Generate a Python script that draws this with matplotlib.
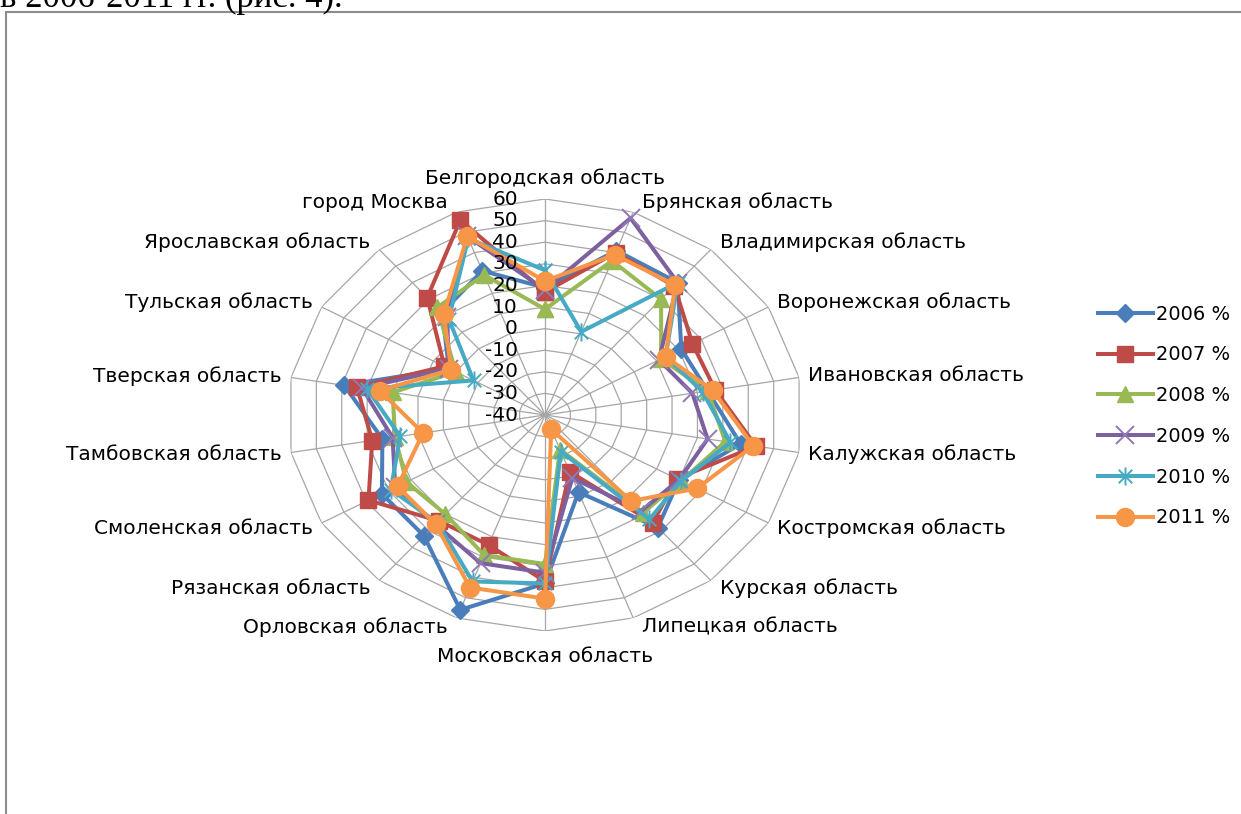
import numpy as np
import matplotlib
matplotlib.use('Agg')
import matplotlib.pyplot as plt
from matplotlib.path import Path
from matplotlib.transforms import offset_copy
from matplotlib.patches import Rectangle

categories = ['Белгородская область', 'Брянская область', 'Владимирская область',
              'Воронежская область', 'Ивановская область', 'Калужская область',
              'Костромская область', 'Курская область', 'Липецкая область',
              'Московская область', 'Орловская область', 'Рязанская область',
              'Смоленская область', 'Тамбовская область', 'Тверская область',
              'Тульская область', 'Ярославская область', 'город Москва']
series_labels = ['2006 %', '2007 %', '2008 %', '2009 %', '2010 %', '2011 %']
v2006 = [19, 41, 40, 21, 24, 37, 20, 28, -2, 38, 56, 33, 33, 24, 39, 3, 22, 31]
v2007 = [17, 40, 38, 26, 27, 43, 19, 25, -12, 37, 24, 24, 39, 28, 34, 5, 31, 56]
v2008 = [9, 36, 30, 12, 24, 31, 21, 19, -23, 29, 29, 20, 22, 19, 20, 0, 25, 29]
v2009 = [18, 57, 40, 11, 18, 24, 20, 18, -9, 33, 33, 26, 27, 20, 32, 3, 19, 48]
v2010 = [27, 1, 40, 14, 22, 33, 21, 23, -22, 38, 42, 25, 29, 17, 30, -8, 18, 47]
v2011 = [22, 39, 38.5, 14, 26, 42, 28, 12, -33, 45, 45, 26, 26, 8, 25, 2, 21, 48]
r_ticks = [-40, -30, -20, -10, 0, 10, 20, 30, 40, 50, 60]
caption = 'в 2006-2011 гг. (рис. 4).'

FONT = 'DejaVu Sans'
FS = 14.5
W, H = 1241, 814
fig = plt.figure(figsize=(W / 100, H / 100), dpi=100)
fig.patch.set_facecolor('white')

# document frame and cut-off caption line above the chart
fig.add_artist(Rectangle((6 / W, -0.1), 1.2, (H - 12) / H + 0.1, transform=fig.transFigure,
                         fill=False, edgecolor='#8c8c8c', lw=1.5))
fig.text(0.0, 1 - 7 / H, caption, family='Liberation Serif', fontsize=25,
         va='baseline', ha='left')

cx, cy, rx, ry = 545, 415, 258, 216
ax = fig.add_axes([(cx - rx) / W, (H - cy - ry) / H, 2 * rx / W, 2 * ry / H],
                  projection='polar')
ax.set_aspect('auto')
ax.set_theta_zero_location('N')
ax.set_theta_direction(-1)
ax.set_ylim(r_ticks[0], r_ticks[-1])
ax.grid(False)
ax.set_xticks([])
ax.set_yticks([])
ax.spines['polar'].set_visible(False)
ax.patch.set_visible(False)

n = len(categories)
theta = np.arange(n) * 2 * np.pi / n
theta_c = np.append(theta, theta[0])
grid_col = '#a6a6a6'
for lev in r_ticks[1:]:
    ax.plot(theta_c, [lev] * (n + 1), color=grid_col, lw=0.9, zorder=0)
for t in theta:
    ax.plot([t, t], [r_ticks[0], r_ticks[-1]], color=grid_col, lw=0.9, zorder=0)

star = Path([(0, -1), (0, 1), (-0.75, -0.75), (0.75, 0.75), (-0.75, 0.75), (0.75, -0.75)],
            [Path.MOVETO, Path.LINETO, Path.MOVETO, Path.LINETO, Path.MOVETO, Path.LINETO])
styles = [
    dict(color='#4A7EBB', marker='D', ms=9),
    dict(color='#BE4B48', marker='s', ms=11),
    dict(color='#98B954', marker='^', ms=11),
    dict(color='#7D60A0', marker='x', ms=13, mew=1.4, mec='#8f78b3'),
    dict(color='#46AAC5', marker=star, ms=13, mew=1.4),
    dict(color='#F79646', marker='o', ms=13),
]
data = [v2006, v2007, v2008, v2009, v2010, v2011]
handles = []
for vals, st, lab in zip(data, styles, series_labels):
    vv = np.append(vals, vals[0])
    h, = ax.plot(theta_c, vv, lw=2.9, label=lab, zorder=3, clip_on=False, **st)
    handles.append(h)

# radial tick labels
tr = offset_copy(ax.transData, fig=fig, x=-27, y=0, units='dots')
for v in r_ticks:
    ax.text(0, v, str(v), transform=tr, ha='right', va='center', fontsize=FS,
            family=FONT, clip_on=False)

# category labels
for t, name in zip(theta, categories):
    s, c = np.sin(t), np.cos(t)
    if abs(s) < 0.1:
        ha = 'center'
        dx = 0
        dy = 21 if c > 0 else -26
    else:
        ha = 'left' if s > 0 else 'right'
        dx = 9 if s > 0 else -9
        dy = 10 * c
    trl = offset_copy(ax.transData, fig=fig, x=dx, y=dy, units='dots')
    ax.text(t, r_ticks[-1], name, transform=trl, ha=ha, va='center', fontsize=FS,
            family=FONT, clip_on=False)

fig.legend(handles, series_labels, loc='center left', bbox_to_anchor=(1090 / W, 1 - 416 / H),
           frameon=False, prop={'family': FONT, 'size': 14}, handlelength=2.85,
           handletextpad=0.15, labelspacing=1.12, borderaxespad=0)

fig.savefig('out.png', dpi=100, facecolor='white')
